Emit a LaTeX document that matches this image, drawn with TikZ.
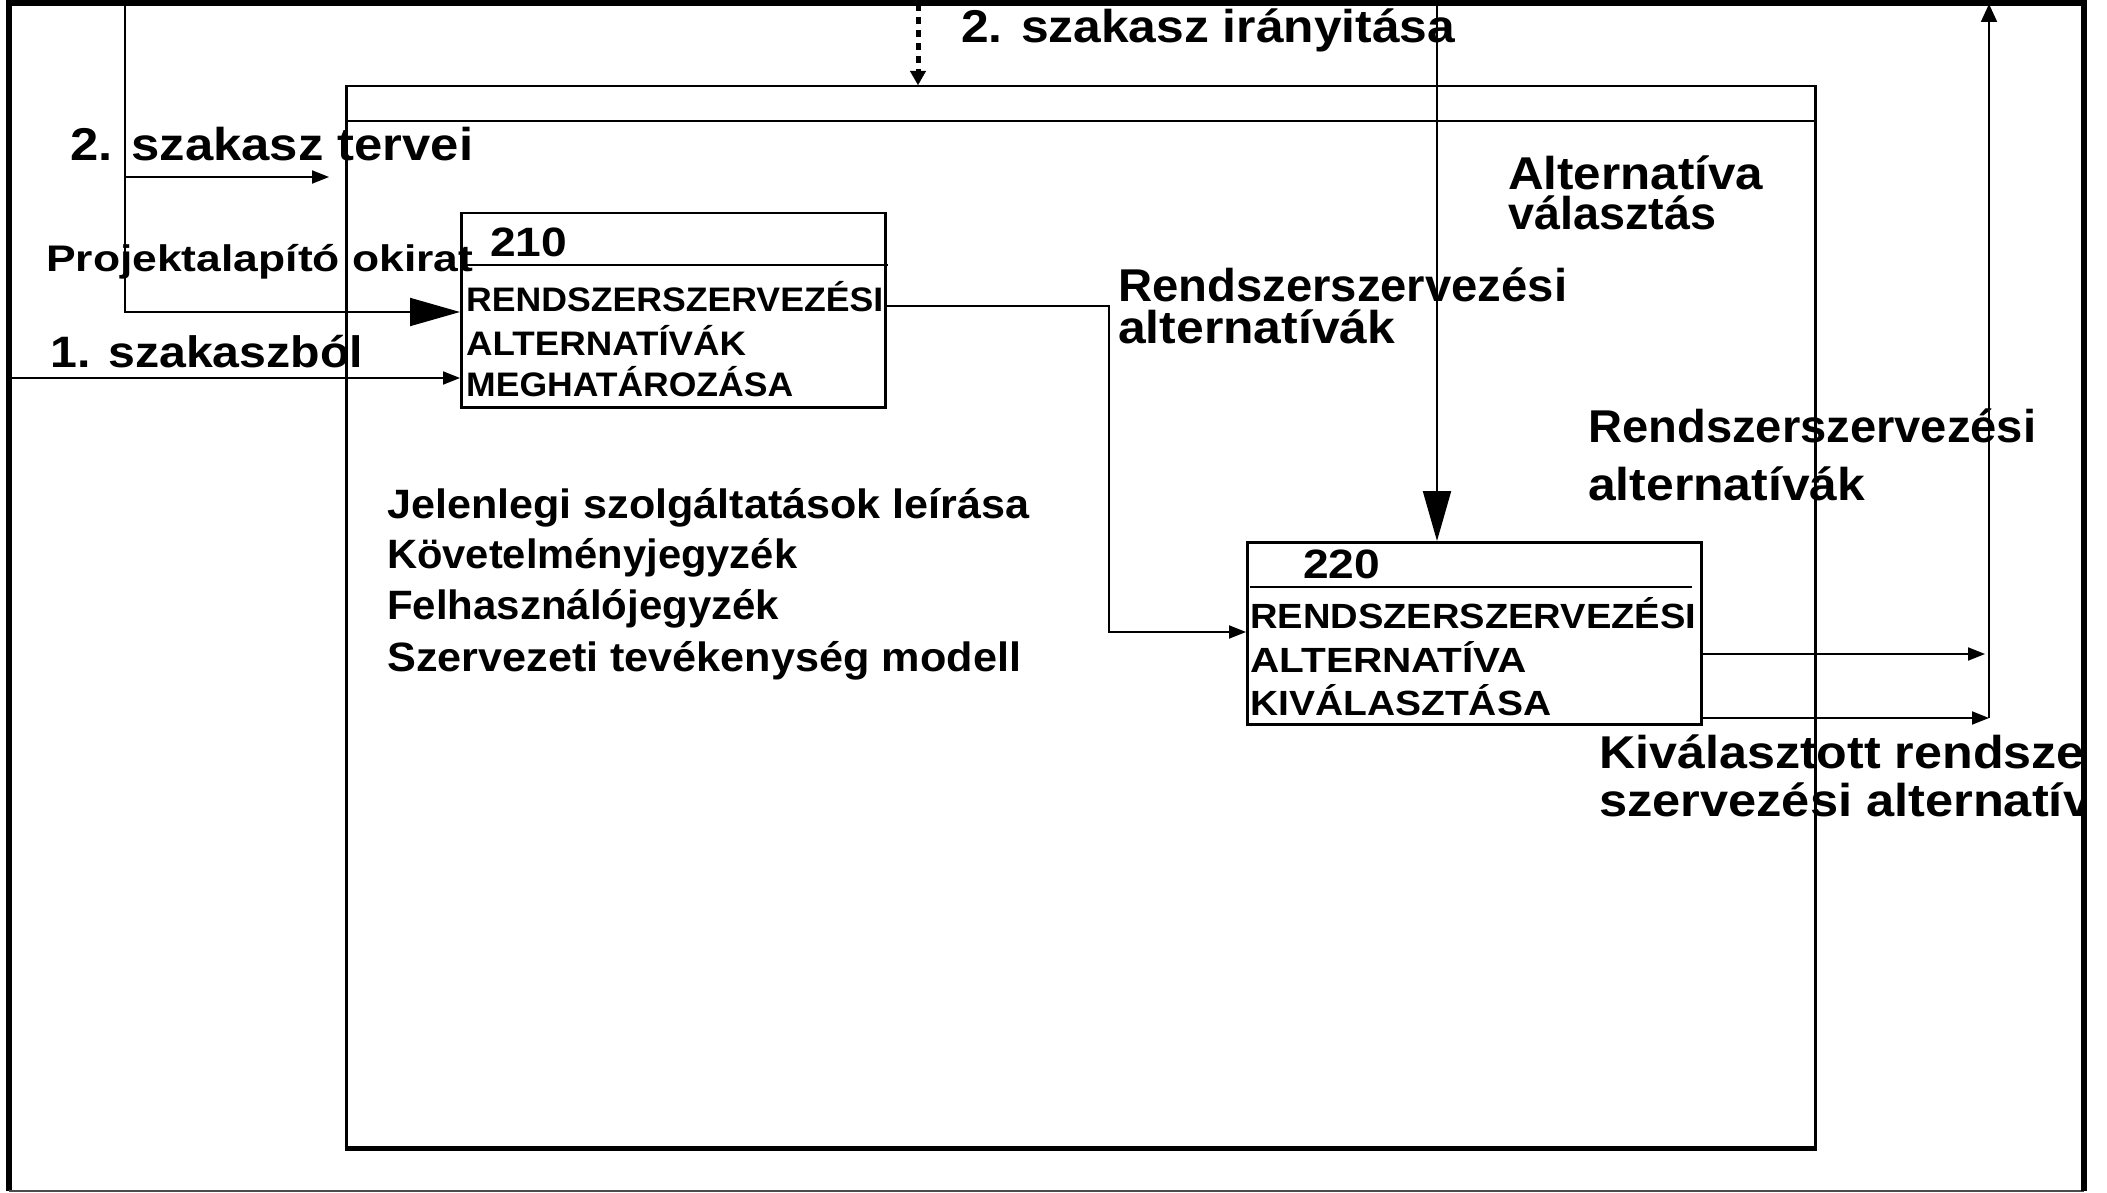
\documentclass[tikz,border=0pt]{standalone}
\usepackage{fontspec}
\setmainfont{Liberation Sans}
\usetikzlibrary{arrows.meta}
\newcommand\fw[2]{\resizebox{#1pt}{\height}{#2}}
\begin{document}
\begin{tikzpicture}[x=1pt,y=-1pt,
  ln/.style={line width=2pt},
  sarr/.style={-{Triangle[length=17pt,width=13pt]}},
  barr/.style={-{Triangle[length=50pt,width=28pt]}},
  lbl/.style={anchor=west,inner sep=0pt,font=\bfseries\fontsize{46}{50}\selectfont},
  lst/.style={anchor=west,inner sep=0pt,font=\bfseries\fontsize{41}{46}\selectfont},
  btx/.style={anchor=west,inner sep=0pt,font=\bfseries\fontsize{34}{38}\selectfont},
  num/.style={anchor=west,inner sep=0pt,font=\bfseries\fontsize{41}{46}\selectfont},
  proc/.style={draw,line width=2.5pt,inner sep=0pt,anchor=north west}]
\useasboundingbox (0,0) rectangle (2107,1193);
\fill[white] (0,0) rectangle (2107,1193);

% outer frame
\draw[line width=6pt] (9,1191) -- (9,3) -- (2084,3) -- (2084,1191);
\draw[line width=1.5pt,black!70] (9,1191) -- (2084,1191);

% inner big box
\node[draw,line width=2.5pt,inner sep=0pt,anchor=north west,minimum width=1469pt,minimum height=1061pt] (frame) at (345,85) {};
\draw[line width=2.5pt] (frame.north west |- 0,121) -- (frame.north east |- 0,121);
\draw[line width=4pt] (frame.south west) -- (frame.south east);

% process boxes
\node[proc,minimum width=424pt,minimum height=194pt] (b210) at (460,212) {};
\draw[ln] (460,265) -- (888,265);
\node[proc,minimum width=454pt,minimum height=182pt] (b220) at (1246,541) {};
\draw[ln] (1250,587) -- (1692,587);

% coordinates
\coordinate (t1) at (125,3);
\coordinate (s1) at (11,378);
\coordinate (t4) at (1437,3);
\coordinate (td) at (918,4);
\coordinate (rv) at (1989,718);
\coordinate (rt) at (1989,4);
\coordinate (p2) at (329,177);
\coordinate (y312) at (0,312);
\coordinate (y306) at (0,306);
\coordinate (y632) at (0,632);
\coordinate (y654) at (0,654);
\coordinate (y718) at (0,718);

% connectors
\draw[ln,barr] (t1) -- (125,312) -- (b210.west |- y312);
\draw[ln,sarr] (125,177) -- (p2);
\draw[ln,sarr] (s1) -- (b210.west |- s1);
\draw[ln,sarr] (b210.east |- y306) -- (1109,306) -- (1109,632) -- (b220.west |- y632);
\draw[ln,barr] (t4) -- (b220.north -| t4);
\draw[line width=5pt,dash pattern=on 7pt off 6pt] (td) -- (918,72);
\draw[-{Triangle[length=14pt,width=16pt]}] (918,72) -- (frame.north -| td);
\draw[ln,sarr] (b220.east |- y654) -- (1985,654);
\draw[ln,sarr] (b220.east |- y718) -- (rv);
\draw[ln,-{Triangle[length=18pt,width=16pt]}] (rv) -- (rt);

% labels
\node[lbl] (l1) at (961,30) {\fw{494}{2. szakasz irányitása}};
\node[lbl] (l2) at (70,144) {\fw{403}{2. szakasz tervei}};
\node[lbl,font=\bfseries\fontsize{37}{40}\selectfont] (l3) at (46,262) {\fw{427}{Projektalapító okirat}};
\node[lbl,font=\bfseries\fontsize{44}{48}\selectfont] (l4) at (50,352) {\fw{313}{1. szakaszból}};
\node[num] (n210) at (490,242) {\fw{77}{210}};
\node[btx] (a1) at (466,297) {\fw{417}{RENDSZERSZERVEZÉSI}};
\node[btx] (a2) at (466,340) {\fw{280}{ALTERNATÍVÁK}};
\node[btx] (a3) at (466,382) {\fw{327}{MEGHATÁROZÁSA}};
\node[lbl] (r1) at (1118,285) {\fw{449}{Rendszerszervezési}};
\node[lbl] (r2) at (1118,327) {\fw{277}{alternatívák}};
\node[lbl,align=left,font=\bfseries\fontsize{46}{40}\selectfont] (v1) at (1508,193) {\fw{255}{Alternatíva}\\\fw{208}{választás}};
\node[lbl] (q1) at (1588,426) {\fw{448}{Rendszerszervezési}};
\node[lbl] (q2) at (1588,484) {\fw{277}{alternatívák}};
\node[lst] (j1) at (387,508) {\fw{642}{Jelenlegi szolgáltatások leírása}};
\node[lst] (j2) at (387,558) {\fw{410}{Követelményjegyzék}};
\node[lst] (j3) at (387,609) {\fw{392}{Felhasználójegyzék}};
\node[lst] (j4) at (387,661) {\fw{634}{Szervezeti tevékenység modell}};
\node[num] (n220) at (1303,564) {\fw{77}{220}};
\node[btx,font=\bfseries\fontsize{35}{38}\selectfont] (c1) at (1250,613) {\fw{446}{RENDSZERSZERVEZÉSI}};
\node[btx,font=\bfseries\fontsize{35}{38}\selectfont] (c2) at (1250,657) {\fw{277}{ALTERNATÍVA}};
\node[btx,font=\bfseries\fontsize{35}{38}\selectfont] (c3) at (1250,700) {\fw{301}{KIVÁLASZTÁSA}};
\begin{scope}
\clip (0,0) rectangle (2082,1193);
\node[lbl] (k1) at (1599,752) {\fw{505}{Kiválasztott rendszer}};
\node[lbl] (k2) at (1599,800) {\fw{492}{szervezési alternatív}};
\end{scope}
\draw[line width=6pt] (2084,3) -- (2084,1191);
\end{tikzpicture}
\end{document}
